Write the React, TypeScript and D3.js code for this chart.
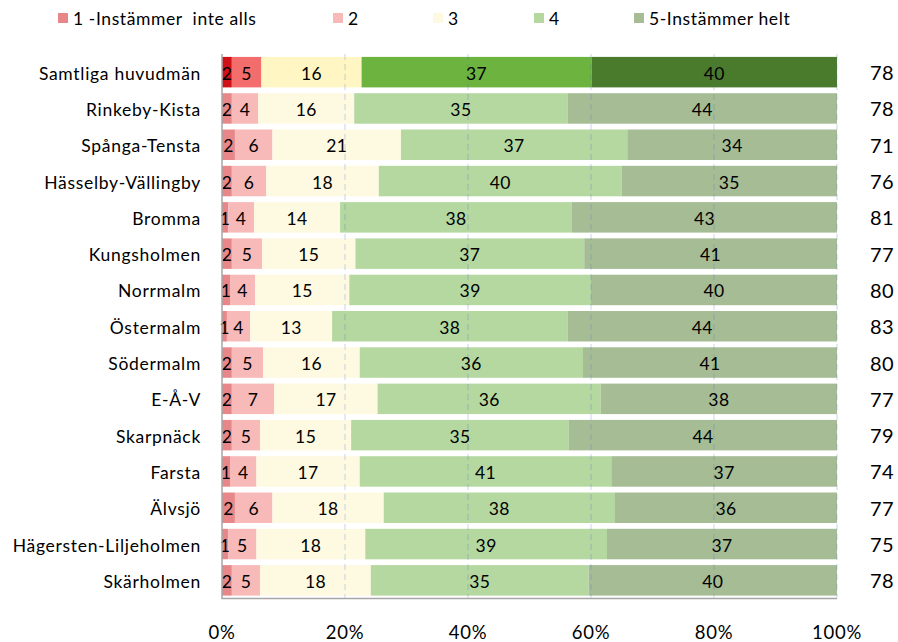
import React from "react";
import * as d3 from "d3";

const categories = [
  "Samtliga huvudmän",
  "Rinkeby-Kista",
  "Spånga-Tensta",
  "Hässelby-Vällingby",
  "Bromma",
  "Kungsholmen",
  "Norrmalm",
  "Östermalm",
  "Södermalm",
  "E-Å-V",
  "Skarpnäck",
  "Farsta",
  "Älvsjö",
  "Hägersten-Liljeholmen",
  "Skärholmen",
];

const seriesNames = ["1 -Instämmer  inte alls", "2", "3", "4", "5-Instämmer helt"];

const s1 = [1.6, 1.6, 2.1, 1.6, 1.0, 1.6, 1.3, 0.8, 1.6, 1.6, 1.6, 1.3, 2.1, 1.0, 1.6];
const s2 = [4.8, 4.3, 6.1, 5.6, 4.2, 4.9, 4.1, 3.8, 5.1, 6.9, 4.6, 4.3, 6.1, 4.6, 4.6];
const s3 = [16.3, 15.6, 20.9, 18.3, 14.0, 15.2, 15.3, 13.3, 15.7, 16.8, 14.8, 16.8, 18.1, 17.7, 18.0];
const s4 = [37.4, 34.7, 36.8, 39.5, 37.7, 37.2, 39.3, 38.3, 36.3, 36.3, 35.4, 40.9, 37.6, 39.3, 35.4];
const s5 = [39.9, 43.8, 34.1, 35.0, 43.1, 41.1, 40.0, 43.8, 41.3, 38.4, 43.6, 36.7, 36.1, 37.4, 40.4];

const agreeTotals = [78, 78, 71, 76, 81, 77, 80, 83, 80, 77, 79, 74, 77, 75, 78];

const xTicks = [0, 0.2, 0.4, 0.6, 0.8, 1.0];

const colorsNormal = ["#E8878A", "#F8B9B9", "#FEF9E1", "#B5D8A0", "#A6BC95"];
const colorsTotal = ["#D01218", "#F36D6D", "#FFF6C3", "#6CB33F", "#4A7A2C"];
const legendX = [58, 333, 433, 534, 634];

const W = 898;
const H = 642;
const FONT = "Lato, 'Open Sans', sans-serif";

export default function App() {
  const seriesVals = [s1, s2, s3, s4, s5];
  const rows = categories.map((c, i) => {
    const o: any = { cat: c };
    seriesVals.forEach((s, k) => (o["k" + k] = s[i]));
    return o;
  });
  const keys = seriesVals.map((_, k) => "k" + k);
  const stacked = d3.stack().keys(keys).offset(d3.stackOffsetExpand)(rows);

  const x = d3.scaleLinear().domain([0, 1]).range([222, 837]);
  const y = d3
    .scaleBand<string>()
    .domain(categories)
    .range([54, 598.5])
    .paddingInner(0.16)
    .paddingOuter(0.08);
  const fmt = d3.format(".0f");

  return (
    <svg
      width={W}
      height={H}
      style={{ position: "absolute", left: 0, top: 0, background: "#fff" }}
      fontFamily={FONT}
    >
      {/* legend */}
      {seriesNames.map((n, k) => (
        <g key={n}>
          <rect x={legendX[k]} y={13} width={10} height={10} fill={colorsNormal[k]} />
          <text
            x={legendX[k] + 15}
            y={18}
            dominantBaseline="central"
            fontSize={17.5}
            letterSpacing={0.6}
            fill="#000"
            style={{ whiteSpace: "pre" }}
          >
            {n}
          </text>
        </g>
      ))}

      {/* bars */}
      {stacked.map((layer, k) =>
        layer.map((d, i) => {
          const cat = categories[i];
          const fill = i === 0 ? colorsTotal[k] : colorsNormal[k];
          return (
            <rect
              key={k + "-" + i}
              x={x(d[0])}
              y={y(cat)}
              width={x(d[1]) - x(d[0])}
              height={y.bandwidth()}
              fill={fill}
            />
          );
        })
      )}

      {/* gridlines */}
      {xTicks.slice(1).map((t) => (
        <line
          key={t}
          x1={x(t)}
          x2={x(t)}
          y1={54}
          y2={598}
          stroke="#4472C4"
          strokeOpacity={0.3}
          strokeWidth={1}
          strokeDasharray="6,4"
        />
      ))}

      {/* value labels */}
      {stacked.map((layer, k) =>
        layer.map((d, i) => {
          const v = seriesVals[k][i];
          const cx = (x(d[0]) + x(d[1])) / 2;
          return (
            <text
              key={"l" + k + "-" + i}
              x={cx}
              y={(y(categories[i]) as number) + y.bandwidth() / 2 + 1}
              textAnchor="middle"
              dominantBaseline="central"
              fontSize={17.5}
              letterSpacing={0.4}
              fill="#000"
            >
              {fmt(v)}
            </text>
          );
        })
      )}

      {/* axes */}
      <line x1={222} x2={222} y1={54} y2={598.5} stroke="#A6A6A6" strokeWidth={1.5} />
      <line x1={221.5} x2={837} y1={598.5} y2={598.5} stroke="#A6A6A6" strokeWidth={1.5} />

      {/* category labels */}
      {categories.map((c) => (
        <text
          key={c}
          x={201}
          y={(y(c) as number) + y.bandwidth() / 2 + 1}
          textAnchor="end"
          dominantBaseline="central"
          fontSize={17.5}
          letterSpacing={0.7}
          fill="#000"
        >
          {c}
        </text>
      ))}

      {/* right totals */}
      {categories.map((c, i) => (
        <text
          key={"t" + c}
          x={870}
          y={(y(c) as number) + y.bandwidth() / 2}
          textAnchor="start"
          dominantBaseline="central"
          fontSize={20}
          letterSpacing={0.3}
          fill="#000"
        >
          {agreeTotals[i]}
        </text>
      ))}

      {/* x tick labels */}
      {xTicks.map((t) => (
        <text
          key={"x" + t}
          x={x(t)}
          y={632}
          textAnchor="middle"
          dominantBaseline="central"
          fontSize={18.5}
          letterSpacing={0.8}
          fill="#000"
        >
          {d3.format(".0%")(t)}
        </text>
      ))}
    </svg>
  );
}
